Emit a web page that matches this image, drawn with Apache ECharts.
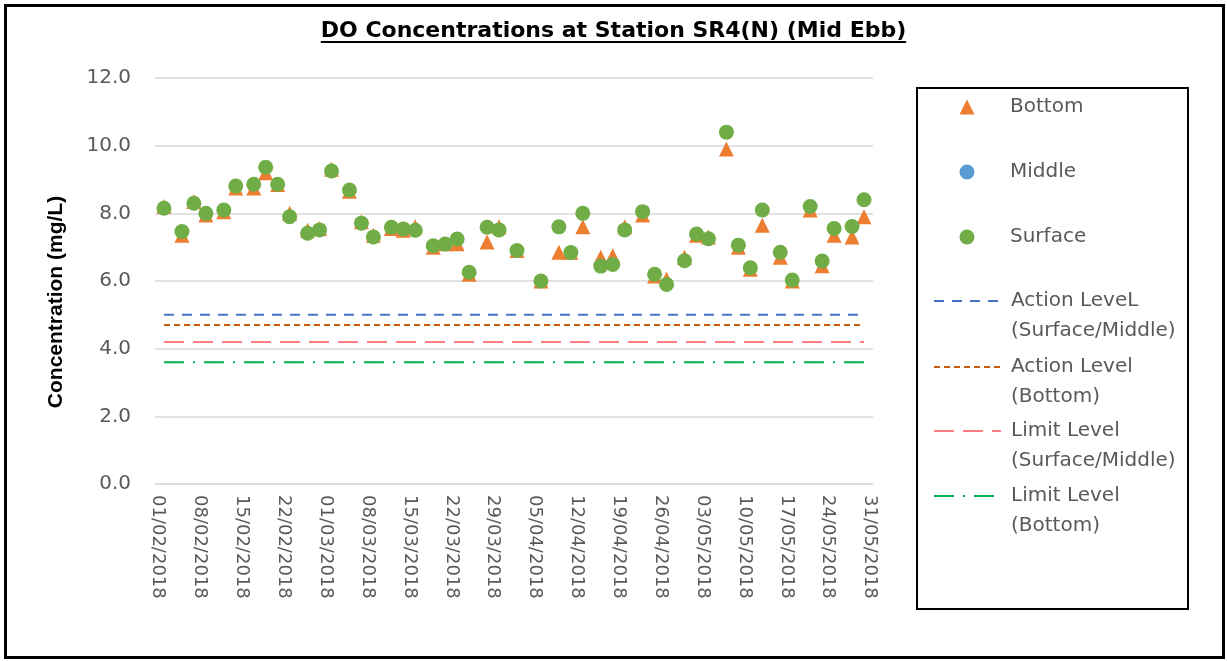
<!DOCTYPE html>
<html>
<head>
<meta charset="utf-8">
<script src="https://cdn.jsdelivr.net/npm/echarts@6/dist/echarts.min.js"></script>
<style>
  html, body { margin: 0; padding: 0; background: #fff; }
  #chart { width: 1227px; height: 661px; }
</style>
</head>
<body>
<div id="chart"></div>
<script>
// sampling dates (dd/mm/yyyy)
const sampleDates = [
  '02/02/2018', '05/02/2018', '07/02/2018', '09/02/2018', '12/02/2018', '14/02/2018',
  '17/02/2018', '19/02/2018', '21/02/2018', '23/02/2018', '26/02/2018', '28/02/2018',
  '02/03/2018', '05/03/2018', '07/03/2018', '09/03/2018', '12/03/2018', '14/03/2018',
  '16/03/2018', '19/03/2018', '21/03/2018', '23/03/2018', '25/03/2018', '28/03/2018',
  '30/03/2018', '02/04/2018', '06/04/2018', '09/04/2018', '11/04/2018', '13/04/2018',
  '16/04/2018', '18/04/2018', '20/04/2018', '23/04/2018', '25/04/2018', '27/04/2018',
  '30/04/2018', '02/05/2018', '04/05/2018', '07/05/2018', '09/05/2018', '11/05/2018',
  '13/05/2018', '16/05/2018', '18/05/2018', '21/05/2018', '23/05/2018', '25/05/2018',
  '28/05/2018', '30/05/2018'
]
const bottomDO = [
  8.2, 7.35, 8.35, 7.95, 8.05, 8.75, 8.75, 9.2, 8.85, 8.0, 7.5, 7.55,
  9.3, 8.65, 7.75, 7.35, 7.55, 7.5, 7.6, 7.0, 7.1, 7.1, 6.2, 7.15,
  7.6, 6.9, 6.0, 6.85, 6.85, 7.6, 6.7, 6.75, 7.6, 7.95, 6.15, 6.05,
  6.7, 7.35, 7.3, 9.9, 7.0, 6.35, 7.65, 6.7, 6.0, 8.1, 6.45, 7.35,
  7.3, 7.9
]
const middleDO = []
const surfaceDO = [
  8.15, 7.46, 8.3, 8.0, 8.1, 8.81, 8.86, 9.36, 8.86, 7.9, 7.41, 7.51,
  9.25, 8.69, 7.71, 7.3, 7.59, 7.54, 7.5, 7.04, 7.09, 7.24, 6.26, 7.59,
  7.51, 6.9, 6.0, 7.6, 6.84, 8.0, 6.44, 6.49, 7.51, 8.05, 6.2, 5.9,
  6.6, 7.39, 7.25, 10.4, 7.06, 6.39, 8.1, 6.85, 6.03, 8.2, 6.59, 7.55,
  7.61, 8.4
]
// compliance levels (mg/L)
const actionSurfMid = 5.0
const actionBottom = 4.7
const limitSurfMid = 4.2
const limitBottom = 3.6

// x axis: one category per day, labelled weekly
const axisStart = '01/02/2018'
const axisEnd = '31/05/2018'
const yMin = 0
const yMax = 12
const yStep = 2

function parseDay(s) {
  const p = s.split('/')
  return Date.UTC(+p[2], +p[1] - 1, +p[0])
}
function fmtDay(t) {
  const d = new Date(t)
  const dd = String(d.getUTCDate()).padStart(2, '0')
  const mm = String(d.getUTCMonth() + 1).padStart(2, '0')
  return dd + '/' + mm + '/' + d.getUTCFullYear()
}
const axisDays = []
for (let t = parseDay(axisStart); t <= parseDay(axisEnd); t += 86400000) {
  axisDays.push(fmtDay(t))
}

const FONT = '"DejaVu Sans", "Liberation Sans", sans-serif'
const BOLD_FONT = '"Liberation Sans", Arial, sans-serif'
const GREY = '#595959'

const pairs = (vals) => vals.map((v, i) => [sampleDates[i], v])
const levelLine = (v) => [[sampleDates[0], v], [sampleDates[sampleDates.length - 1], v]]

const legendNames = {
  'Bottom': 'Bottom',
  'Middle': 'Middle',
  'Surface': 'Surface',
  'ActionSM': 'Action LeveL\n(Surface/Middle)',
  'ActionB': 'Action Level\n(Bottom)',
  'LimitSM': 'Limit Level\n(Surface/Middle)',
  'LimitB': 'Limit Level\n(Bottom)'
}
const legendRows = [
  ['Bottom', 107, 'marker'], ['Middle', 172, 'marker'], ['Surface', 237, 'marker'],
  ['ActionSM', 301, 'line'], ['ActionB', 367, 'line'], ['LimitSM', 431, 'line'], ['LimitB', 496, 'line']
]

function makeLegend(name, cy, kind) {
  const twoLine = legendNames[name].indexOf('\n') >= 0
  const marker = kind === 'marker'
  const leg = {
    data: [name],
    orient: 'vertical',
    left: marker ? 959.5 : 933,
    top: twoLine ? cy - 45 : cy - 15,
    padding: 0,
    itemWidth: marker ? 15 : 67,
    itemHeight: 15,
    selectedMode: false,
    // empty first line keeps the icon level with the first text line
    formatter: (n) => (twoLine ? '\n' : '') + legendNames[n],
    textStyle: {
      fontFamily: FONT,
      fontSize: 20,
      color: GREY,
      lineHeight: 30,
      padding: [0, 0, 0, marker ? 30.5 : 5]
    }
  }
  if (!marker) leg.itemStyle = { opacity: 0 }
  return leg
}

// title underline width
const measureCtx = document.createElement('canvas').getContext('2d')
const titleText = 'DO Concentrations at Station SR4(N) (Mid Ebb)'
const titleFont = 'bold 22px ' + FONT
measureCtx.font = titleFont
const titleW = measureCtx.measureText(titleText).width

const chart = echarts.init(document.getElementById('chart'))
chart.setOption({
  backgroundColor: '#fff',
  animation: false,
  title: {
    text: titleText,
    left: 'center',
    top: 15,
    textStyle: { fontFamily: FONT, fontSize: 22, fontWeight: 'bold', color: '#000' }
  },
  graphic: [
    {
      type: 'rect',
      shape: { x: 5.5, y: 5.5, width: 1218, height: 652 },
      style: { fill: null, stroke: '#000', lineWidth: 3 },
      silent: true
    },
    {
      type: 'rect',
      shape: { x: 917, y: 88, width: 271, height: 521 },
      style: { fill: null, stroke: '#000', lineWidth: 2 },
      silent: true
    },
    {
      type: 'line',
      shape: { x1: 613.5 - titleW / 2, y1: 42, x2: 613.5 + titleW / 2, y2: 42 },
      style: { stroke: '#000', lineWidth: 2 },
      silent: true
    }
  ],
  legend: legendRows.map(r => makeLegend(r[0], r[1], r[2])),
  grid: { left: 155, right: 354, top: 78, bottom: 177 },
  xAxis: {
    type: 'category',
    data: axisDays,
    boundaryGap: true,
    axisLine: { lineStyle: { color: '#d9d9d9', width: 1 } },
    axisTick: { show: false },
    splitLine: { show: false },
    axisLabel: {
      interval: 6,
      rotate: -90,
      margin: 11,
      fontFamily: FONT,
      fontSize: 18,
      color: GREY
    }
  },
  yAxis: {
    type: 'value',
    min: yMin,
    max: yMax,
    interval: yStep,
    name: 'Concentration (mg/L)',
    nameLocation: 'middle',
    nameGap: 88,
    nameTextStyle: {
      fontFamily: BOLD_FONT, fontSize: 21, fontWeight: 'bold', color: '#000',
      padding: [0, 42, 0, 0]
    },
    axisLine: { show: false },
    axisTick: { show: false },
    splitLine: { lineStyle: { color: '#d9d9d9', width: 1.5 } },
    axisLabel: {
      margin: 24,
      fontFamily: FONT,
      fontSize: 20,
      color: GREY,
      formatter: v => v.toFixed(1)
    }
  },
  series: [
    {
      name: 'Bottom', type: 'scatter', symbol: 'triangle', symbolSize: 15,
      itemStyle: { color: '#ED7D31', opacity: 1 }, data: pairs(bottomDO)
    },
    {
      name: 'Middle', type: 'scatter', symbol: 'circle', symbolSize: 15,
      itemStyle: { color: '#5B9BD5', opacity: 1 }, data: pairs(middleDO)
    },
    {
      name: 'Surface', type: 'scatter', symbol: 'circle', symbolSize: 15,
      itemStyle: { color: '#70AD47', opacity: 1 }, data: pairs(surfaceDO)
    },
    {
      name: 'ActionSM', type: 'line', symbol: 'none', silent: true,
      lineStyle: { color: '#4472C4', width: 2, type: [10, 8] },
      itemStyle: { color: '#4472C4' }, data: levelLine(actionSurfMid)
    },
    {
      name: 'ActionB', type: 'line', symbol: 'none', silent: true,
      lineStyle: { color: '#C55A11', width: 2, type: [6, 4] },
      itemStyle: { color: '#C55A11' }, data: levelLine(actionBottom)
    },
    {
      name: 'LimitSM', type: 'line', symbol: 'none', silent: true,
      lineStyle: { color: '#FF7C80', width: 2, type: [20, 9] },
      itemStyle: { color: '#FF7C80' }, data: levelLine(limitSurfMid)
    },
    {
      name: 'LimitB', type: 'line', symbol: 'none', silent: true,
      lineStyle: { color: '#00B050', width: 2, type: [20, 9, 2, 9] },
      itemStyle: { color: '#00B050' }, data: levelLine(limitBottom)
    }
  ]
})
</script>
</body>
</html>
